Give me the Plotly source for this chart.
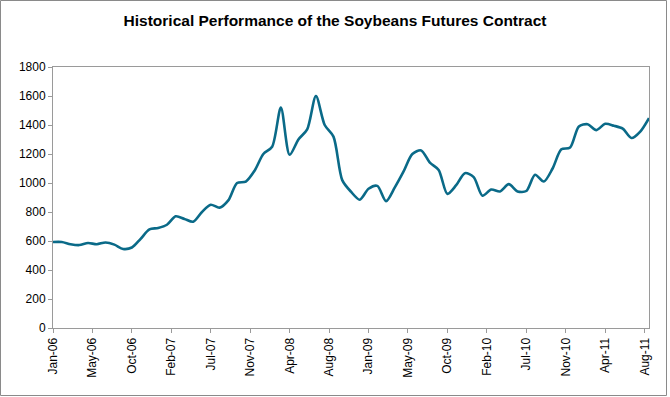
import plotly.graph_objects as go

# Monthly values, Jan-06 through Sep-11 (index 0..68)
month_index = list(range(69))
prices = [593, 593, 578, 572, 586, 578, 590, 575, 545, 555,
          615, 680, 690, 712, 770, 752, 733, 800, 850, 830,
          880, 1000, 1010, 1085, 1200, 1250, 1520, 1195, 1300, 1370,
          1600, 1400, 1320, 1020, 940, 885, 960, 980, 875, 970,
          1080, 1200, 1225, 1140, 1090, 925, 985, 1068, 1040, 912,
          955, 942, 992, 942, 945, 1057, 1010, 1100, 1232, 1245,
          1390, 1405, 1365, 1408, 1395, 1375, 1310, 1355, 1448]

tick_labels = ["Jan-06", "May-06", "Oct-06", "Feb-07", "Jul-07", "Nov-07", "Apr-08", "Aug-08",
               "Jan-09", "May-09", "Oct-09", "Feb-10", "Jul-10", "Nov-10", "Apr-11", "Aug-11"]
tick_step = 4.5
tick_vals = [i * tick_step for i in range(len(tick_labels))]

y_ticks = list(range(0, 1801, 200))

fig = go.Figure()
fig.add_trace(go.Scatter(
    x=month_index, y=prices, mode="lines",
    line=dict(color="#0A6A88", width=2.6, shape="spline", smoothing=0.8),
    hoverinfo="skip", showlegend=False,
))

W, H = 670, 397
ml, mr, mt, mb = 53, 21, 67, 69

fig.update_layout(
    width=W, height=H,
    margin=dict(l=ml, r=mr, t=mt, b=mb, pad=0),
    paper_bgcolor="white", plot_bgcolor="white",
    font=dict(family="Liberation Sans, Arial, sans-serif", size=12, color="black"),
    title=dict(text="<b>Historical Performance of the Soybeans Futures Contract</b>",
               x=0.5, xanchor="center", y=1 - 21 / H, yanchor="middle",
               font=dict(size=15.5, color="black")),
    xaxis=dict(range=[month_index[0], month_index[-1]], tickmode="array",
               tickvals=tick_vals, ticktext=tick_labels, tickangle=-90,
               showgrid=False, zeroline=False, showline=True, linecolor="#9a9a9a",
               linewidth=1, mirror=True, ticks="outside", ticklen=4, tickcolor="#9a9a9a",
               tickfont=dict(size=12)),
    yaxis=dict(range=[0, 1800], tickmode="array", tickvals=y_ticks,
               showgrid=False, zeroline=False, showline=True, linecolor="#9a9a9a",
               linewidth=1, mirror=True, ticks="outside", ticklen=4, tickcolor="#9a9a9a",
               tickfont=dict(size=12)),
)

pw = W - ml - mr
ph = H - mt - mb
fig.add_shape(type="rect", xref="paper", yref="paper",
              x0=(0.5 - ml) / pw, x1=(666.5 - ml) / pw,
              y0=-(mb - 1.5) / ph, y1=1 + (mt - 0.5) / ph,
              line=dict(color="#8a8a8a", width=1), fillcolor="rgba(0,0,0,0)", layer="above")

fig.write_html("out.html", config={"displayModeBar": False},
               post_script="document.body.style.margin='0';document.body.style.padding='0';")
